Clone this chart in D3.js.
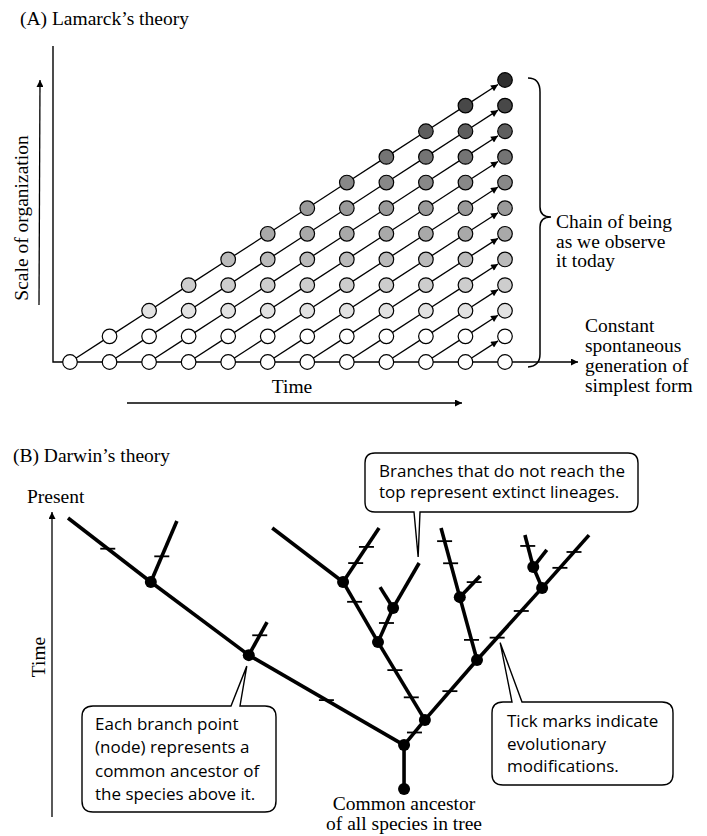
<!DOCTYPE html>
<html><head><meta charset="utf-8">
<script src="https://cdn.jsdelivr.net/npm/d3@7/dist/d3.min.js"></script>
<style>html,body{margin:0;padding:0;background:#fff}svg{display:block}</style>
</head><body>
<svg id="c" width="707" height="836"></svg>
<script>
// ---------- DATA ----------
// Panel A: Lamarck
const generations = [0,1,2,3,4,5,6,7,8,9,10,11];
const levels      = [0,1,2,3,4,5,6,7,8,9,10,11];
const levelFills  = ['#ffffff','#ffffff','#e2e2e2','#cdcdcd','#bababa','#a9a9a9','#9a9a9a','#888888','#747474','#5e5e5e','#484848','#2e2e2e'];
const chainLabel  = ['Chain of being','as we observe','it today'];
const spontLabel  = ['Constant','spontaneous','generation of','simplest form'];

// Panel B: Darwin tree (u = lateral position 0-100, t = time 0 root .. 10 present)
const treeIds     = ['root','A','L1','L2','tipL','tipL2','tipL1','B','C','D','E','F','tipF1','tipF2','tipE1','tipE2','G','tipG1','tipG2','H','I','tipH','tipI1','tipI2'];
const treeParents = ['','root','A','L1','L2','L2','L1','A','B','B','C','C','F','F','E','E','D','G','G','D','H','H','I','I'];
const treeU       = [64.5,64.5,34.7,15.9,0,20.9,38.2,68.5,59.5,78.5,52.8,62.4,59.9,67.4,39.2,59.7,75.2,71.6,79.1,91.0,89.3,100,87.7,91.9];
const treeT       = [0,1.62,4.94,7.64,10,9.89,6.16,2.55,5.42,4.76,7.64,6.68,7.45,8.34,9.63,9.63,7.08,9.63,7.86,7.42,8.19,9.37,9.37,8.82];
const tickEdges   = ['tipL','tipL2','tipL1','L1','B','C','C','D','E','F','tipE2','tipE2','G','tipG1','tipG1','tipG2','H','H','tipH','tipH','tipI1'];
const tickFracs   = [0.52,0.42,0.60,0.50,0.50,0.29,0.64,0.48,0.67,0.56,0.35,0.65,0.32,0.49,0.81,0.71,0.31,0.68,0.38,0.68,0.66];
const note1 = ['Branches that do not reach the','top represent extinct lineages.'];
const note2 = ['Each branch point','(node) represents a','common ancestor of','the species above it.'];
const note3 = ['Tick marks indicate','evolutionary','modifications.'];
const rootLabel = ['Common ancestor','of all species in tree'];

// ---------- DRAW ----------
const svg = d3.select('#c');
const serif = '"Liberation Serif","DejaVu Serif",serif';
const sans = '"Open Sans","Liberation Sans",sans-serif';
svg.append('rect').attr('width',707).attr('height',836).attr('fill','#fff');

const defs = svg.append('defs');
defs.append('marker').attr('id','ah').attr('viewBox','0 0 10 10').attr('refX',10).attr('refY',5)
  .attr('markerWidth',9).attr('markerHeight',7).attr('markerUnits','userSpaceOnUse').attr('orient','auto')
  .append('path').attr('d','M0,0 L10,5 L0,10 Z').attr('fill','#000');
defs.append('marker').attr('id','ah2').attr('viewBox','0 0 10 10').attr('refX',10).attr('refY',5)
  .attr('markerWidth',11).attr('markerHeight',7).attr('markerUnits','userSpaceOnUse').attr('orient','auto')
  .append('path').attr('d','M0,0 L10,5 L0,10 Z').attr('fill','#000');

// ---- Panel A ----
const gx = d3.scaleLinear().domain([0,11]).range([70,505]);
const ly = d3.scaleLinear().domain([0,11]).range([362,80]);
const R = 7.3;
const A = svg.append('g');

A.append('text').attr('x',20).attr('y',25).attr('font-family',serif).attr('font-size',19.5).text('(A)  Lamarck\u2019s theory');

// axes
A.append('path').attr('d',`M53,46 L53,${ly(0)} L${gx(11)+R},${ly(0)}`).attr('fill','none').attr('stroke','#000').attr('stroke-width',1.4);
A.append('line').attr('x1',gx(11)+R).attr('y1',ly(0)).attr('x2',578).attr('y2',ly(0)).attr('stroke','#000').attr('stroke-width',1.4).attr('marker-end','url(#ah2)');
// y label arrow
A.append('line').attr('x1',39).attr('y1',305).attr('x2',40).attr('y2',80).attr('stroke','#000').attr('stroke-width',1.3).attr('marker-end','url(#ah)');
A.append('text').attr('transform','translate(28,218) rotate(-90)').attr('text-anchor','middle')
  .attr('font-family',serif).attr('font-size',19.5).text('Scale of organization');
// x label
A.append('text').attr('x',292).attr('y',393).attr('text-anchor','middle').attr('font-family',serif).attr('font-size',19.5).text('Time');
A.append('line').attr('x1',127).attr('y1',403).attr('x2',462).attr('y2',403).attr('stroke','#000').attr('stroke-width',1.3).attr('marker-end','url(#ah2)');

// diagonal chains
const segs = [];
generations.forEach(g => { if (g < 11) levels.filter(l => l <= g).forEach(l => segs.push({g, l})); });
const dx = gx(1)-gx(0), dy = ly(1)-ly(0), len = Math.hypot(dx,dy);
A.selectAll('line.seg').data(segs).join('line').attr('class','seg')
  .attr('x1',d=>gx(d.g)).attr('y1',d=>ly(d.l))
  .attr('x2',d=> d.g===10 ? gx(d.g+1)-dx/len*(R+1) : gx(d.g+1))
  .attr('y2',d=> d.g===10 ? ly(d.l+1)-dy/len*(R+1) : ly(d.l+1))
  .attr('stroke','#000').attr('stroke-width',1.3)
  .attr('marker-end',d=> d.g===10 ? 'url(#ah)' : null);

const cells = [];
generations.forEach(g => levels.filter(l => l <= g).forEach(l => cells.push({g, l})));
A.selectAll('circle.c').data(cells).join('circle').attr('class','c')
  .attr('cx',d=>gx(d.g)).attr('cy',d=>ly(d.l)).attr('r',R)
  .attr('fill',d=>levelFills[d.l]).attr('stroke','#000').attr('stroke-width',1.2);

// brace
const bt = ly(11)-2, bb = ly(0)+4, bm = 217, bx = 540;
A.append('path').attr('d',`M528,${bt} Q${bx},${bt} ${bx},${bt+14} L${bx},${bm-10} Q${bx},${bm} 551,${bm} Q${bx},${bm} ${bx},${bm+10} L${bx},${bb-12} Q${bx},${bb} 528,${bb+1}`)
  .attr('fill','none').attr('stroke','#000').attr('stroke-width',1.5);
A.append('text').attr('font-family',serif).attr('font-size',19.5)
  .selectAll('tspan').data(chainLabel).join('tspan').attr('x',556).attr('y',(d,i)=>228+i*19.5).text(d=>d);
A.append('text').attr('font-family',serif).attr('font-size',19.5)
  .selectAll('tspan').data(spontLabel).join('tspan').attr('x',585).attr('y',(d,i)=>332+i*20).text(d=>d);

// ---- Panel B ----
const B = svg.append('g');
B.append('text').attr('x',13).attr('y',462).attr('font-family',serif).attr('font-size',19.5).text('(B)  Darwin\u2019s theory');
B.append('text').attr('x',27).attr('y',503).attr('font-family',serif).attr('font-size',19.5).text('Present');
B.append('line').attr('x1',52).attr('y1',817).attr('x2',52).attr('y2',512).attr('stroke','#000').attr('stroke-width',1.3).attr('marker-end','url(#ah)');
B.append('text').attr('transform','translate(45,657) rotate(-90)').attr('text-anchor','middle')
  .attr('font-family',serif).attr('font-size',19.5).text('Time');

const ux = d3.scaleLinear().domain([0,100]).range([68,589]);
const ty = d3.scaleLinear().domain([0,10]).range([789,518]);
const nodeRows = treeIds.map((id,i)=>({id, parent: treeParents[i], u: treeU[i], t: treeT[i]}));
const root = d3.stratify().id(d=>d.id).parentId(d=>d.parent || null)(nodeRows);
const byId = new Map(root.descendants().map(n=>[n.id,n]));
const P = n => [ux(n.data.u), ty(n.data.t)];

B.selectAll('line.br').data(root.links()).join('line').attr('class','br')
  .attr('x1',d=>P(d.source)[0]).attr('y1',d=>P(d.source)[1])
  .attr('x2',d=>P(d.target)[0]).attr('y2',d=>P(d.target)[1])
  .attr('stroke','#000').attr('stroke-width',3.6).attr('stroke-linecap','butt');

const ticks = tickEdges.map((e,i)=>{ const c = byId.get(e), p = c.parent; const a=P(p), b=P(c), f=tickFracs[i];
  return {x: a[0]+(b[0]-a[0])*f, y: a[1]+(b[1]-a[1])*f}; });
B.selectAll('line.tk').data(ticks).join('line').attr('class','tk')
  .attr('x1',d=>d.x-7.5).attr('x2',d=>d.x+7.5).attr('y1',d=>d.y).attr('y2',d=>d.y)
  .attr('stroke','#000').attr('stroke-width',1.8);

B.selectAll('circle.nd').data(root.descendants().filter(n=>n.children || !n.parent)).join('circle').attr('class','nd')
  .attr('cx',d=>P(d)[0]).attr('cy',d=>P(d)[1]).attr('r',6).attr('fill','#000');

B.append('text').attr('font-family',serif).attr('font-size',19.5).attr('text-anchor','middle')
  .selectAll('tspan').data(rootLabel).join('tspan').attr('x',P(root)[0]).attr('y',(d,i)=>810+i*20).text(d=>d);

// callouts
function callout(x0,y0,x1,y1,r,side,b1,b2,tx,tyy){
  if(side==='top') return `M${x0+r},${y0} L${b1},${y0} L${tx},${tyy} L${b2},${y0} L${x1-r},${y0} Q${x1},${y0} ${x1},${y0+r} L${x1},${y1-r} Q${x1},${y1} ${x1-r},${y1} L${x0+r},${y1} Q${x0},${y1} ${x0},${y1-r} L${x0},${y0+r} Q${x0},${y0} ${x0+r},${y0} Z`;
  return `M${x0+r},${y0} L${x1-r},${y0} Q${x1},${y0} ${x1},${y0+r} L${x1},${y1-r} Q${x1},${y1} ${x1-r},${y1} L${b2},${y1} L${tx},${tyy} L${b1},${y1} L${x0+r},${y1} Q${x0},${y1} ${x0},${y1-r} L${x0},${y0+r} Q${x0},${y0} ${x0+r},${y0} Z`;
}
const tF = P(byId.get('tipF2')), nL1 = P(byId.get('L1')), tk3 = ticks[16];
B.append('path').attr('d',callout(365,453,638,512,10,'bottom',414,420,tF[0]-1,tF[1]-6)).attr('fill','#fff').attr('stroke','#000').attr('stroke-width',1.4);
B.append('path').attr('d',callout(82,706,276,812,11,'top',231,240,nL1[0]-2,nL1[1]+11)).attr('fill','#fff').attr('stroke','#000').attr('stroke-width',1.4);
B.append('path').attr('d',callout(492,702,673,785,11,'top',512,522,tk3.x+3,tk3.y+5)).attr('fill','#fff').attr('stroke','#000').attr('stroke-width',1.4);

function noteText(lines,x,y0,step){
  B.append('text').attr('font-family',sans).attr('font-size',17)
   .selectAll('tspan').data(lines).join('tspan').attr('x',x).attr('y',(d,i)=>y0+i*step).text(d=>d);
}
noteText(note1,379,477,21);
noteText(note2,95,730,23.3);
noteText(note3,507,727,22.5);
</script>
</body></html>
